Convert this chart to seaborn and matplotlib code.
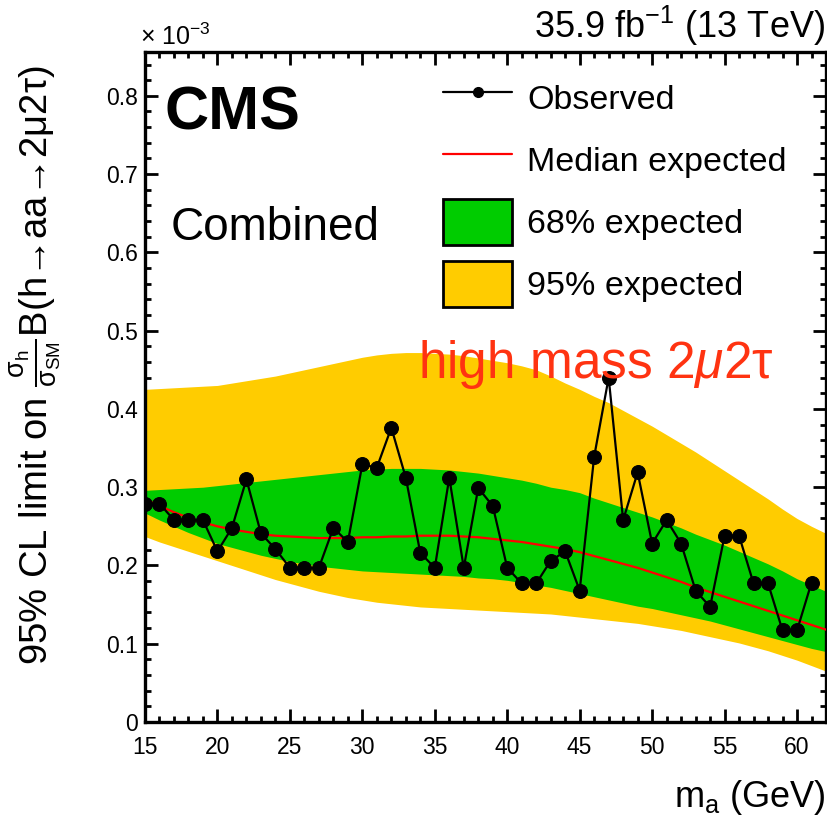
import numpy as np
import pandas as pd
import matplotlib
matplotlib.use("Agg")
import matplotlib.pyplot as plt
from matplotlib.lines import Line2D
from matplotlib.patches import Patch
from matplotlib.ticker import MultipleLocator
import seaborn as sns

# ---------------- data (values in units of 1e-3) ----------------
obs_mass = list(range(15, 62))
obs_limit = [0.278, 0.279, 0.258, 0.258, 0.258, 0.218, 0.248, 0.310, 0.241, 0.221,
             0.197, 0.197, 0.197, 0.248, 0.230, 0.329, 0.325, 0.376, 0.312, 0.216,
             0.197, 0.312, 0.197, 0.299, 0.276, 0.197, 0.177, 0.177, 0.206, 0.218,
             0.168, 0.339, 0.440, 0.258, 0.319, 0.228, 0.258, 0.228, 0.168, 0.147,
             0.238, 0.238, 0.177, 0.177, 0.117, 0.117, 0.178]

exp_mass = list(range(15, 63))
exp_median = [0.285, 0.276, 0.268, 0.261, 0.255, 0.250, 0.246, 0.243, 0.240, 0.238,
              0.237, 0.236, 0.235, 0.235, 0.235, 0.236, 0.236, 0.237, 0.237, 0.238,
              0.238, 0.238, 0.237, 0.236, 0.234, 0.232, 0.230, 0.227, 0.224, 0.221,
              0.217, 0.212, 0.207, 0.202, 0.197, 0.191, 0.185, 0.179, 0.172, 0.166,
              0.160, 0.154, 0.148, 0.142, 0.136, 0.130, 0.124, 0.118]
exp_p1s = [0.296, 0.297, 0.298, 0.299, 0.300, 0.302, 0.304, 0.306, 0.308, 0.310,
           0.312, 0.314, 0.316, 0.318, 0.320, 0.322, 0.323, 0.324, 0.324, 0.324,
           0.323, 0.322, 0.320, 0.318, 0.315, 0.312, 0.309, 0.305, 0.300, 0.297,
           0.293, 0.286, 0.280, 0.274, 0.268, 0.262, 0.255, 0.248, 0.240, 0.233,
           0.226, 0.218, 0.210, 0.202, 0.193, 0.183, 0.175, 0.167]
exp_m1s = [0.267, 0.258, 0.250, 0.242, 0.235, 0.228, 0.223, 0.218, 0.213, 0.209,
           0.205, 0.202, 0.199, 0.197, 0.195, 0.193, 0.192, 0.191, 0.190, 0.189,
           0.188, 0.187, 0.186, 0.184, 0.183, 0.181, 0.178, 0.175, 0.172, 0.168,
           0.164, 0.160, 0.156, 0.152, 0.148, 0.145, 0.141, 0.137, 0.133, 0.129,
           0.124, 0.119, 0.114, 0.109, 0.104, 0.099, 0.094, 0.090]
exp_p2s = [0.425, 0.426, 0.427, 0.428, 0.429, 0.430, 0.433, 0.436, 0.439, 0.442,
           0.446, 0.450, 0.454, 0.458, 0.462, 0.466, 0.469, 0.471, 0.472, 0.472,
           0.471, 0.470, 0.468, 0.465, 0.462, 0.459, 0.455, 0.450, 0.442, 0.433,
           0.425, 0.416, 0.408, 0.398, 0.388, 0.378, 0.367, 0.356, 0.345, 0.333,
           0.321, 0.309, 0.297, 0.285, 0.272, 0.260, 0.250, 0.241]
exp_m2s = [0.237, 0.230, 0.224, 0.218, 0.212, 0.206, 0.200, 0.194, 0.188, 0.182,
           0.177, 0.172, 0.167, 0.163, 0.159, 0.156, 0.153, 0.151, 0.149, 0.147,
           0.146, 0.145, 0.144, 0.143, 0.142, 0.141, 0.140, 0.139, 0.138, 0.136,
           0.134, 0.132, 0.130, 0.128, 0.126, 0.123, 0.120, 0.117, 0.113, 0.109,
           0.105, 0.101, 0.096, 0.091, 0.085, 0.079, 0.072, 0.065]

legend_labels = ["Observed", "Median expected", "68% expected", "95% expected"]
ytick_values = [0, 0.1, 0.2, 0.3, 0.4, 0.5, 0.6, 0.7, 0.8]
ytick_labels = ["0", "0.1", "0.2", "0.3", "0.4", "0.5", "0.6", "0.7", "0.8"]

obs_df = pd.DataFrame({"mass": obs_mass, "limit": obs_limit})
exp_df = pd.DataFrame({"mass": exp_mass, "median": exp_median,
                       "p1": exp_p1s, "m1": exp_m1s, "p2": exp_p2s, "m2": exp_m2s})

# ---------------- style ----------------
sns.set_theme(style="ticks")
plt.rcParams["font.family"] = ["Liberation Sans", "DejaVu Sans"]
plt.rcParams["mathtext.fontset"] = "custom"
plt.rcParams["mathtext.rm"] = "Liberation Sans"
plt.rcParams["mathtext.it"] = "Liberation Sans:italic"
plt.rcParams["mathtext.bf"] = "Liberation Sans:bold"
for k in ["text.color", "axes.labelcolor", "xtick.color", "ytick.color", "axes.edgecolor"]:
    plt.rcParams[k] = "black"

GREEN = "#00cc00"
YELLOW = "#ffcc00"

fig = plt.figure(figsize=(8.28, 8.16), dpi=100)
ax = fig.add_axes([145 / 828, 1 - 722 / 816, (826 - 145) / 828, (722 - 52) / 816])

ax.fill_between(exp_df["mass"], exp_df["m2"], exp_df["p2"], color=YELLOW, lw=0, zorder=1)
ax.fill_between(exp_df["mass"], exp_df["m1"], exp_df["p1"], color=GREEN, lw=0, zorder=2)
sns.lineplot(data=exp_df, x="mass", y="median", ax=ax, color="red", lw=1.6, zorder=3)
sns.lineplot(data=obs_df, x="mass", y="limit", ax=ax, color="black", lw=1.6,
             marker="o", markersize=10, markeredgecolor="black", zorder=4)

ax.set_xlim(15, 62)
ax.set_ylim(0, 0.856)
ax.xaxis.set_major_locator(MultipleLocator(5))
ax.xaxis.set_minor_locator(MultipleLocator(1))
ax.yaxis.set_minor_locator(MultipleLocator(0.02))
ax.set_yticks(ytick_values)
ax.set_yticklabels(ytick_labels)
ax.tick_params(which="both", direction="in", top=True, right=True, width=2.0,
               labelsize=16.5, colors="black")
ax.tick_params(which="major", length=9.5, pad=5)
ax.tick_params(axis="x", which="major", pad=10)
ax.tick_params(which="minor", length=4.5)
for s in ax.spines.values():
    s.set_linewidth(2.4)
    s.set_color("black")

ax.set_xlabel(r"m$_{\mathrm{a}}$ (GeV)", fontsize=26, ha="right")
ax.xaxis.set_label_coords(1.0, -0.083)
ax.set_ylabel(r"95% CL limit on $\frac{\mathrm{σ_{h}}}{\mathrm{σ_{SM}}}$B(h→aa→2μ2τ)",
              fontsize=27.5, ha="center")
ax.yaxis.set_label_coords(-0.12, 0.533)

# texts
ax.text(0.029, 0.884, "CMS", transform=ax.transAxes, fontsize=44, fontweight="bold",
        va="baseline", ha="left")
ax.text(0.037, 0.719, "Combined", transform=ax.transAxes, fontsize=33,
        va="baseline", ha="left")
ax.text(0.662, 0.513, "high mass 2$\\mathit{\\mu}$2τ", transform=ax.transAxes, fontsize=37,
        color="#ff3311", va="baseline", ha="center", zorder=5)
fig.text(0.997, 1 - 38 / 816, "35.9 fb$^{-1}$ (13 TeV)", fontsize=26, ha="right",
         va="baseline")
fig.text(140 / 828, 1 - 45 / 816, "× 10$^{-3}$", fontsize=18, ha="left", va="baseline")

# legend
handles = [
    Line2D([0], [0], color="black", lw=1.6, marker="o", markersize=7),
    Line2D([0], [0], color="red", lw=1.6),
    Patch(facecolor=GREEN, edgecolor="black", lw=2),
    Patch(facecolor=YELLOW, edgecolor="black", lw=2),
]
leg = ax.legend(handles, legend_labels, loc="upper left",
                bbox_to_anchor=(0.4376, 0.966), fontsize=24.5, frameon=False,
                handlelength=2.03, handleheight=1.70, labelspacing=0.47,
                handletextpad=0.45, borderpad=0, borderaxespad=0)

fig.savefig("out.png", dpi=100)
